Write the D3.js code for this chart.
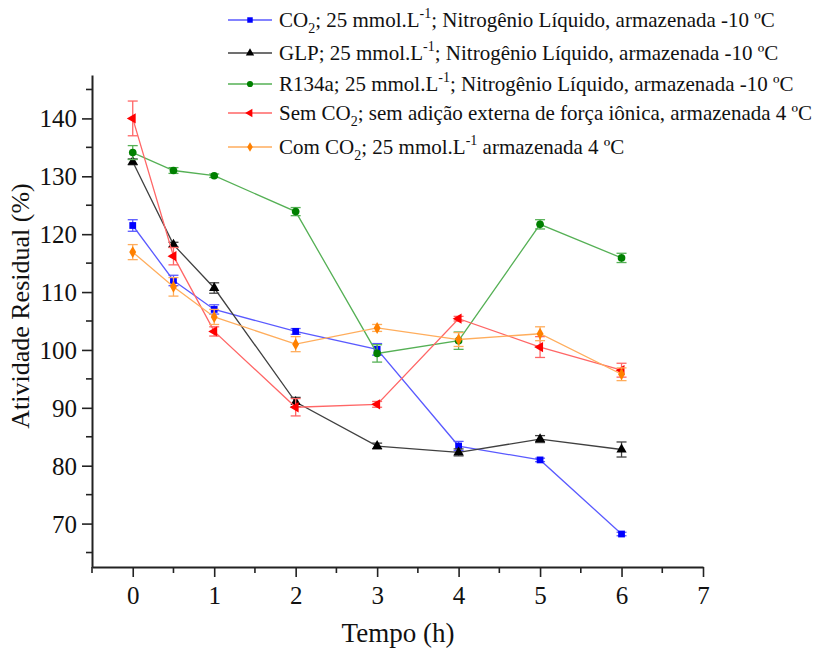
<!DOCTYPE html>
<html>
<head>
<meta charset="utf-8">
<script src="https://cdn.jsdelivr.net/npm/d3@7"></script>
<style>
  body { margin: 0; background: #fff; }
  svg { display: block; font-family: "Liberation Serif", "Times New Roman", serif; }
</style>
</head>
<body>
<svg id="chart" width="816" height="650"></svg>
<script>
// time points (h)
const hours = [0, 0.5, 1, 2, 3, 4, 5, 6];

// residual activity (%) and error bars
const co2Values = [121.5, 112.0, 107.0, 103.2, 100.1, 83.4, 81.0, 68.2];
const co2Errors = [1.0, 0.9, 0.8, 0.5, 1.0, 0.8, 0.3, 0.3];

const glpValues = [132.5, 118.2, 110.7, 91.0, 83.4, 82.3, 84.6, 82.8];
const glpErrors = [0.5, 0.4, 0.9, 0.8, 0.5, 0.6, 0.6, 1.3];

const r134aValues = [134.1, 131.0, 130.1, 123.9, 99.4, 101.6, 121.7, 115.9];
const r134aErrors = [1.2, 0.5, 0.3, 0.7, 1.5, 1.5, 0.8, 0.8];

const semCo2Values = [140.0, 116.2, 103.2, 90.1, 90.6, 105.4, 100.5, 96.5];
const semCo2Errors = [3.0, 1.5, 0.8, 1.5, 0.5, 0.4, 1.8, 1.2];

const comCo2Values = [116.9, 110.9, 105.7, 101.0, 103.8, 101.8, 102.8, 95.8];
const comCo2Errors = [1.3, 1.6, 1.3, 1.3, 0.6, 1.2, 1.2, 1.1];

// legend labels: [text, 'sub' | 'sup' | null]
const co2Label = [["CO"], ["2", "sub"], ["; 25 mmol.L"], ["-1", "sup"], ["; Nitrogênio Líquido, armazenada -10 ºC"]];
const glpLabel = [["GLP; 25 mmol.L"], ["-1", "sup"], ["; Nitrogênio Líquido, armazenada -10 ºC"]];
const r134aLabel = [["R134a; 25 mmol.L"], ["-1", "sup"], ["; Nitrogênio Líquido, armazenada -10 ºC"]];
const semCo2Label = [["Sem CO"], ["2", "sub"], ["; sem adição externa de força iônica, armazenada 4 ºC"]];
const comCo2Label = [["Com CO"], ["2", "sub"], ["; 25 mmol.L"], ["-1", "sup"], [" armazenada 4 ºC"]];

const xTicks = [0, 1, 2, 3, 4, 5, 6, 7];
const xMinorTicks = [-0.5, 0.5, 1.5, 2.5, 3.5, 4.5, 5.5, 6.5];
const yTicks = [70, 80, 90, 100, 110, 120, 130, 140];
const yMinorTicks = [65, 75, 85, 95, 105, 115, 125, 135, 145];

const series = [
  { label: co2Label, values: co2Values, errors: co2Errors, marker: '#0000ff', line: '#5a5aff', symbol: 'square' },
  { label: glpLabel, values: glpValues, errors: glpErrors, marker: '#000000', line: '#404040', symbol: 'triangle' },
  { label: r134aLabel, values: r134aValues, errors: r134aErrors, marker: '#008000', line: '#55b055', symbol: 'circle' },
  { label: semCo2Label, values: semCo2Values, errors: semCo2Errors, marker: '#ff0000', line: '#ff6666', symbol: 'left' },
  { label: comCo2Label, values: comCo2Values, errors: comCo2Errors, marker: '#ff8000', line: '#ffad5c', symbol: 'diamond' }
];

const svg = d3.select('#chart');

const x = d3.scaleLinear().domain([-0.5, 7]).range([92, 703]);
const y = d3.scaleLinear().domain([62.5, 147.5]).range([567, 75]);

function symbolPath(kind, size) {
  if (kind === 'square') return d3.symbol(d3.symbolSquare, size)();
  if (kind === 'circle') return d3.symbol(d3.symbolCircle, size)();
  if (kind === 'diamond') return d3.symbol(d3.symbolDiamond, size * 0.9)();
  return d3.symbol(d3.symbolTriangle, size)();
}
function symbolRotation(kind) {
  return kind === 'left' ? ' rotate(-90)' : '';
}

// axes
const axisColor = '#222';
const xAxis = svg.append('g').attr('transform', `translate(0,${y.range()[0]})`);
xAxis.call(d3.axisBottom(x).tickValues(xTicks).tickSize(10).tickSizeOuter(0).tickFormat(d3.format('d')));
xAxis.append('g').selectAll('line').data(xMinorTicks).join('line')
  .attr('x1', d => x(d)).attr('x2', d => x(d)).attr('y1', 0).attr('y2', 6);

const yAxis = svg.append('g').attr('transform', `translate(${x.range()[0]},0)`);
yAxis.call(d3.axisLeft(y).tickValues(yTicks).tickSize(10).tickSizeOuter(0).tickFormat(d3.format('d')));
yAxis.append('g').selectAll('line').data(yMinorTicks).join('line')
  .attr('y1', d => y(d)).attr('y2', d => y(d)).attr('x1', 0).attr('x2', -6);

[xAxis, yAxis].forEach(a => {
  a.selectAll('.domain').attr('stroke', axisColor).attr('stroke-width', 2);
  a.selectAll('line').attr('stroke', axisColor).attr('stroke-width', 1.6);
  a.selectAll('text').attr('font-family', '"Liberation Serif", serif')
    .attr('font-size', 25).attr('fill', '#111');
});
xAxis.selectAll('.tick text').attr('dy', '0.95em');
yAxis.selectAll('.tick text').attr('x', -15).attr('dy', '0.34em');

// axis titles
svg.append('text')
  .attr('x', 398).attr('y', 642)
  .attr('text-anchor', 'middle')
  .attr('font-size', 27).attr('fill', '#111')
  .text('Tempo (h)');

svg.append('text')
  .attr('transform', 'translate(29,306) rotate(-90)')
  .attr('text-anchor', 'middle')
  .attr('font-size', 26).attr('fill', '#111')
  .text('Atividade Residual (%)');

// series
const plot = svg.append('g');
series.forEach(s => {
  const pts = hours.map((h, i) => ({ h, v: s.values[i], e: s.errors[i] }));
  const g = plot.append('g');

  g.append('path')
    .datum(pts)
    .attr('fill', 'none')
    .attr('stroke', s.line)
    .attr('stroke-width', 1.3)
    .attr('d', d3.line().x(d => x(d.h)).y(d => y(d.v)));

  const eb = g.selectAll('.err').data(pts).join('g')
    .attr('stroke', s.line).attr('stroke-width', 1.3);
  eb.append('line')
    .attr('x1', d => x(d.h)).attr('x2', d => x(d.h))
    .attr('y1', d => y(d.v - d.e)).attr('y2', d => y(d.v + d.e));
  eb.append('line')
    .attr('x1', d => x(d.h) - 5).attr('x2', d => x(d.h) + 5)
    .attr('y1', d => y(d.v + d.e)).attr('y2', d => y(d.v + d.e));
  eb.append('line')
    .attr('x1', d => x(d.h) - 5).attr('x2', d => x(d.h) + 5)
    .attr('y1', d => y(d.v - d.e)).attr('y2', d => y(d.v - d.e));

  g.selectAll('.mk').data(pts).join('path')
    .attr('d', symbolPath(s.symbol, 46))
    .attr('fill', s.marker)
    .attr('transform', d => `translate(${x(d.h)},${y(d.v)})${symbolRotation(s.symbol)}`);
});

// legend
const legendRows = [20, 53, 84, 113, 147];
const legend = svg.append('g');
series.forEach((s, i) => {
  const row = legend.append('g').attr('transform', `translate(0,${legendRows[i]})`);
  row.append('line')
    .attr('x1', 228).attr('x2', 272).attr('y1', 0).attr('y2', 0)
    .attr('stroke', s.line).attr('stroke-width', 1.5);
  row.append('path')
    .attr('d', symbolPath(s.symbol, 30))
    .attr('fill', s.marker)
    .attr('transform', `translate(250,0)${symbolRotation(s.symbol)}`);
  const t = row.append('text')
    .attr('x', 279).attr('y', 7)
    .attr('font-size', 21).attr('fill', '#111');
  // each shifted piece moves the baseline; undo it on the next piece
  let offset = 0;
  s.label.forEach(([txt, shift]) => {
    const ts = t.append('tspan').text(txt);
    if (shift === 'sub') { ts.attr('font-size', 14).attr('dy', 6 - offset); offset = 6; }
    else if (shift === 'sup') { ts.attr('font-size', 14).attr('dy', -9 - offset); offset = -9; }
    else { ts.attr('dy', -offset); offset = 0; }
  });
});
</script>
</body>
</html>
